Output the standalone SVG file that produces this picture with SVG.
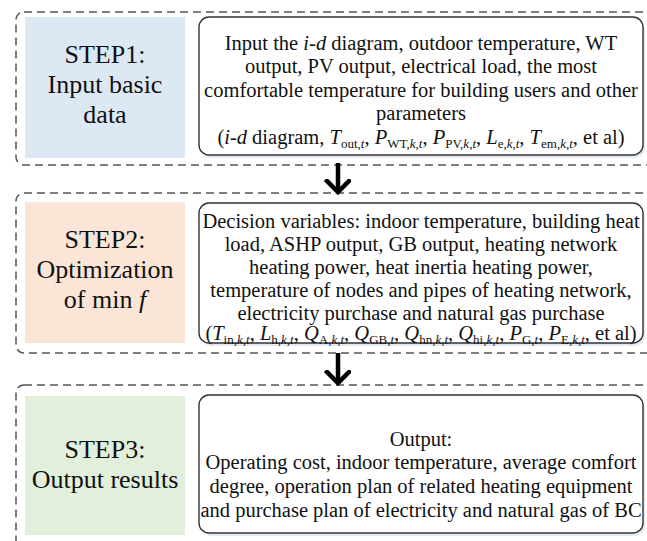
<svg xmlns="http://www.w3.org/2000/svg" width="647" height="541" viewBox="0 0 647 541">
<style>
.outer{fill:none;stroke:#555;stroke-width:1.5;stroke-dasharray:8 5}
.card{fill:#fff;stroke:#333;stroke-width:1.4}
.shadow{fill:#e4eaf2}
text{font-family:"Liberation Serif","Times New Roman",serif;fill:#111;text-anchor:middle}
.lbl{font-size:26px}
.txt{font-size:20.5px}
.it{font-style:italic}
.sb{font-size:13px}
.conn{stroke:#000;stroke-width:4.5;fill:none}
</style>
<defs>
<marker id="ah" markerUnits="userSpaceOnUse" markerWidth="30" markerHeight="30" refX="13" refY="13" orient="auto">
<path d="M2 2 L13 13 L2 24" fill="none" stroke="#000" stroke-width="4.5" stroke-linecap="square"/>
</marker>
</defs>

<g id="step1">
<rect class="outer" x="16" y="12" width="640" height="153" rx="8"/>
<rect x="25" y="17" width="160" height="141" fill="#dde8f5"/>
<text class="lbl" x="105" y="63">STEP1:</text>
<text class="lbl" x="105" y="93">Input basic</text>
<text class="lbl" x="105" y="123">data</text>
<rect class="shadow" x="201" y="20" width="444" height="138" rx="10"/>
<rect class="card" x="199" y="17" width="444" height="138" rx="10"/>
<text class="txt" x="421" y="50">Input the <tspan class="it">i-d</tspan> diagram, outdoor temperature, WT</text>
<text class="txt" x="421" y="73">output, PV output, electrical load, the most</text>
<text class="txt" x="421" y="97">comfortable temperature for building users and other</text>
<text class="txt" x="421" y="120">parameters</text>
<text class="txt" x="421" y="144">(<tspan class="it">i-d</tspan> diagram, <tspan class="it">T</tspan><tspan class="sb" dy="4">out,<tspan class="it">t</tspan></tspan><tspan dy="-4">, </tspan><tspan class="it">P</tspan><tspan class="sb" dy="4">WT,<tspan class="it">k</tspan>,<tspan class="it">t</tspan></tspan><tspan dy="-4">, </tspan><tspan class="it">P</tspan><tspan class="sb" dy="4">PV,<tspan class="it">k</tspan>,<tspan class="it">t</tspan></tspan><tspan dy="-4">, </tspan><tspan class="it">L</tspan><tspan class="sb" dy="4">e,<tspan class="it">k</tspan>,<tspan class="it">t</tspan></tspan><tspan dy="-4">, </tspan><tspan class="it">T</tspan><tspan class="sb" dy="4">em,<tspan class="it">k</tspan>,<tspan class="it">t</tspan></tspan><tspan dy="-4">, et al)</tspan></text>
</g>

<g id="step2">
<rect class="outer" x="16" y="193" width="640" height="160" rx="8"/>
<rect x="25" y="202" width="160" height="141" fill="#fbe5d6"/>
<text class="lbl" x="105" y="248">STEP2:</text>
<text class="lbl" x="105" y="278">Optimization</text>
<text class="lbl" x="105" y="308">of min <tspan class="it">f</tspan></text>
<rect class="shadow" x="201" y="206" width="444" height="140" rx="10"/>
<rect class="card" x="199" y="203" width="444" height="140" rx="10"/>
<text class="txt" x="421" y="228">Decision variables: indoor temperature, building heat</text>
<text class="txt" x="421" y="251">load, ASHP output, GB output, heating network</text>
<text class="txt" x="421" y="274">heating power, heat inertia heating power,</text>
<text class="txt" x="421" y="297">temperature of nodes and pipes of heating network,</text>
<text class="txt" x="421" y="320">electricity purchase and natural gas purchase</text>
<text class="txt" x="421" y="340">(<tspan class="it">T</tspan><tspan class="sb" dy="4">in,<tspan class="it">k</tspan>,<tspan class="it">t</tspan></tspan><tspan dy="-4">, </tspan><tspan class="it">L</tspan><tspan class="sb" dy="4">h,<tspan class="it">k</tspan>,<tspan class="it">t</tspan></tspan><tspan dy="-4">, </tspan><tspan class="it">Q</tspan><tspan class="sb" dy="4">A,<tspan class="it">k</tspan>,<tspan class="it">t</tspan></tspan><tspan dy="-4">, </tspan><tspan class="it">Q</tspan><tspan class="sb" dy="4">GB,<tspan class="it">t</tspan></tspan><tspan dy="-4">, </tspan><tspan class="it">Q</tspan><tspan class="sb" dy="4">hn,<tspan class="it">k</tspan>,<tspan class="it">t</tspan></tspan><tspan dy="-4">, </tspan><tspan class="it">Q</tspan><tspan class="sb" dy="4">hi,<tspan class="it">k</tspan>,<tspan class="it">t</tspan></tspan><tspan dy="-4">, </tspan><tspan class="it">P</tspan><tspan class="sb" dy="4">G,<tspan class="it">t</tspan></tspan><tspan dy="-4">, </tspan><tspan class="it">P</tspan><tspan class="sb" dy="4">E,<tspan class="it">k</tspan>,<tspan class="it">t</tspan></tspan><tspan dy="-4">, et al)</tspan></text>
</g>

<g id="step3">
<rect class="outer" x="16" y="385" width="640" height="170" rx="8"/>
<rect x="25" y="396" width="160" height="139" fill="#e2efda"/>
<text class="lbl" x="105" y="458">STEP3:</text>
<text class="lbl" x="105" y="488">Output results</text>
<rect class="shadow" x="201" y="398" width="444" height="138" rx="10"/>
<rect class="card" x="199" y="395" width="444" height="138" rx="10"/>
<text class="txt" x="421" y="446">Output:</text>
<text class="txt" x="421" y="469">Operating cost, indoor temperature, average comfort</text>
<text class="txt" x="421" y="493">degree, operation plan of related heating equipment</text>
<text class="txt" x="421" y="517">and purchase plan of electricity and natural gas of BC</text>
</g>

<g id="connectors">
<path class="conn" d="M338 163 V192" marker-end="url(#ah)"/>
<path class="conn" d="M338 353 V383" marker-end="url(#ah)"/>
</g>
</svg>
